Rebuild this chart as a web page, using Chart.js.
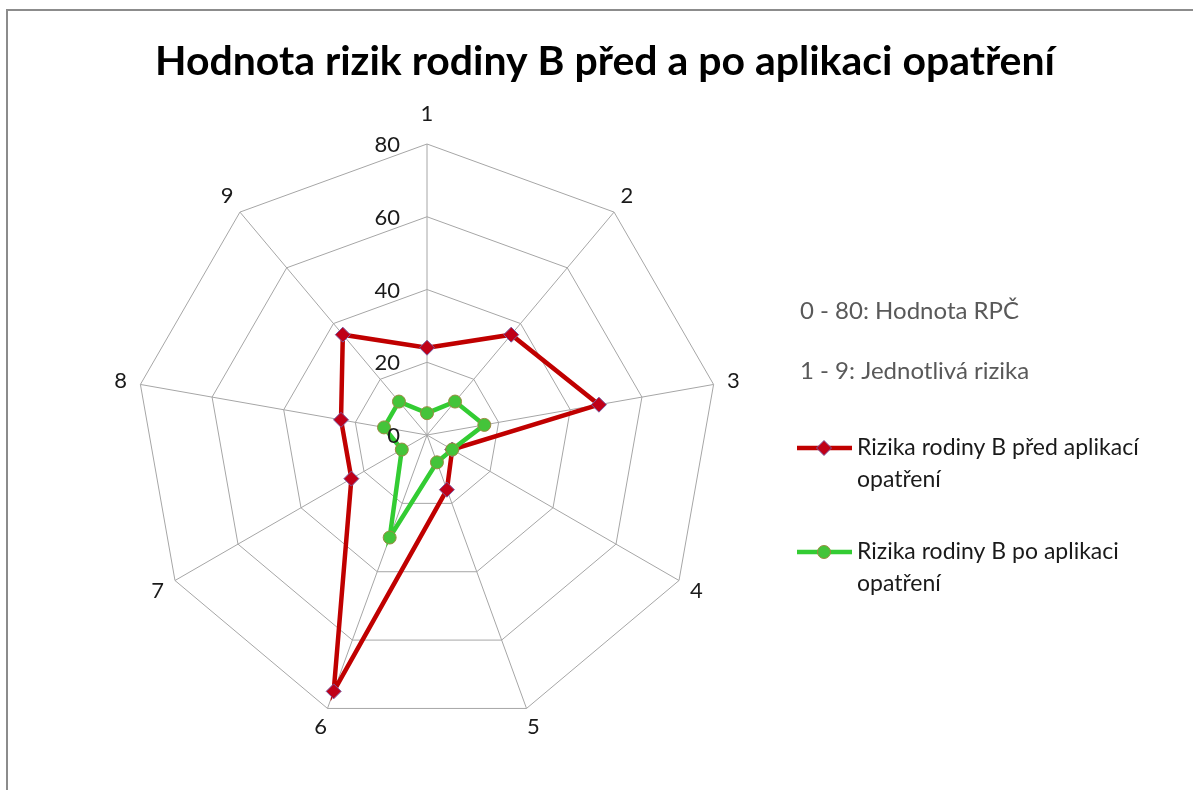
<!DOCTYPE html>
<html>
<head>
<meta charset="utf-8">
<script src="https://cdn.jsdelivr.net/npm/chart.js@4.4.0/dist/chart.umd.min.js"></script>
<style>
html, body { margin: 0; padding: 0; background: #fff; overflow: hidden; }
#frame { position: absolute; left: 6px; top: 9px; width: 1200px; height: 800px; border: 2px solid #8c8c8c; box-sizing: border-box; }
#wrap { position: absolute; left: 0; top: 0; width: 1193px; height: 790px; }
</style>
</head>
<body>
<div id="frame"></div>
<div id="wrap"><canvas id="riskChart"></canvas></div>
<script>
// Data
const riskLabels = ['1', '2', '3', '4', '5', '6', '7', '8', '9'];
const beforeValues = [24, 36, 48, 8, 16, 75, 24, 24, 36];
const afterValues = [6, 12, 16, 8, 8, 30, 8, 12, 12];
const tickValues = [0, 20, 40, 60, 80];

const chartTitle = 'Hodnota rizik rodiny B před a po aplikaci opatření';
const noteLines = ['0 - 80: Hodnota RPČ', '1 - 9: Jednotlivá rizika'];
const seriesNames = [
    ['Rizika rodiny B před aplikací', 'opatření'],
    ['Rizika rodiny B po aplikaci', 'opatření']
];

const RED = '#c00000';
const GREEN = '#33cc33';

// Title, axis labels, tick labels and the side legend are drawn here
const extrasPlugin = {
    id: 'extras',
    afterDraw(chart) {
        const ctx = chart.ctx;
        const r = chart.scales.r;
        ctx.save();

        // title
        ctx.fillStyle = '#000';
        ctx.font = 'bold 41px Lato';
        ctx.textAlign = 'center';
        ctx.textBaseline = 'middle';
        ctx.fillText(chartTitle, 605, 62, 900);

        // category labels around the web (centred, like Excel)
        ctx.fillStyle = '#1a1a1a';
        ctx.font = '22px Lato';
        riskLabels.forEach((lab, i) => {
            const a = r.getIndexAngle(i);
            const up = Math.pow(Math.max(0, Math.cos(a)), 10) * 10;
            const p = r.getPointPosition(i, r.drawingArea + 20);
            ctx.fillText(lab, p.x, p.y - up);
        });

        // value labels left of the vertical axis
        ctx.textAlign = 'right';
        tickValues.forEach(v => {
            const y = r.yCenter - r.getDistanceFromCenterForValue(v);
            ctx.fillText(String(v), r.xCenter - 27, y + 1);
        });

        // notes
        ctx.textAlign = 'left';
        ctx.font = '24px Lato';
        ctx.fillStyle = '#595959';
        ctx.fillText(noteLines[0], 800, 311);
        ctx.fillText(noteLines[1], 800, 371);

        // series entries
        const rows = [448, 552];
        chart.data.datasets.forEach((ds, i) => {
            const y = rows[i];
            ctx.strokeStyle = ds.borderColor;
            ctx.lineWidth = ds.borderWidth;
            ctx.beginPath();
            ctx.moveTo(797, y);
            ctx.lineTo(852, y);
            ctx.stroke();

            ctx.fillStyle = ds.pointBackgroundColor;
            ctx.strokeStyle = ds.pointBorderColor;
            ctx.lineWidth = 1;
            ctx.beginPath();
            if (ds.pointStyle === 'rectRot') {
                const s = 7.5;
                ctx.moveTo(824, y - s);
                ctx.lineTo(824 + s, y);
                ctx.lineTo(824, y + s);
                ctx.lineTo(824 - s, y);
                ctx.closePath();
            } else {
                ctx.arc(824, y, 6.5, 0, Math.PI * 2);
            }
            ctx.fill();
            ctx.stroke();

            ctx.fillStyle = '#1a1a1a';
            ctx.font = '23px Lato';
            ctx.fillText(seriesNames[i][0], 857, y);
            ctx.fillText(seriesNames[i][1], 857, y + 32);
        });

        ctx.restore();
    }
};

const ctx = document.getElementById('riskChart').getContext('2d');

new Chart(ctx, {
    type: 'radar',
    data: {
        labels: riskLabels,
        datasets: [
            {
                label: seriesNames[0].join(' '),
                data: beforeValues,
                borderColor: RED,
                borderWidth: 4.5,
                fill: false,
                pointStyle: 'rectRot',
                pointRadius: 7.5,
                pointHoverRadius: 7.5,
                pointBackgroundColor: '#c00018',
                pointBorderColor: '#7a5aa0',
                pointBorderWidth: 1,
                order: 1
            },
            {
                label: seriesNames[1].join(' '),
                data: afterValues,
                borderColor: GREEN,
                borderWidth: 4.5,
                fill: false,
                pointStyle: 'circle',
                pointRadius: 6.5,
                pointHoverRadius: 6.5,
                pointBackgroundColor: '#44c43a',
                pointBorderColor: '#9a8a40',
                pointBorderWidth: 1,
                order: 0
            }
        ]
    },
    options: {
        responsive: true,
        maintainAspectRatio: false,
        animation: false,
        layout: { padding: { left: 136, right: 475, top: 144, bottom: 64 } },
        plugins: {
            legend: { display: false },
            title: { display: false },
            tooltip: { enabled: false }
        },
        scales: {
            r: {
                min: 0,
                max: 80,
                ticks: { stepSize: 20, display: false },
                grid: { color: '#a6a6a6', lineWidth: 1 },
                angleLines: { color: '#a6a6a6', lineWidth: 1 },
                pointLabels: { display: false }
            }
        }
    },
    plugins: [extrasPlugin]
});
</script>
</body>
</html>
